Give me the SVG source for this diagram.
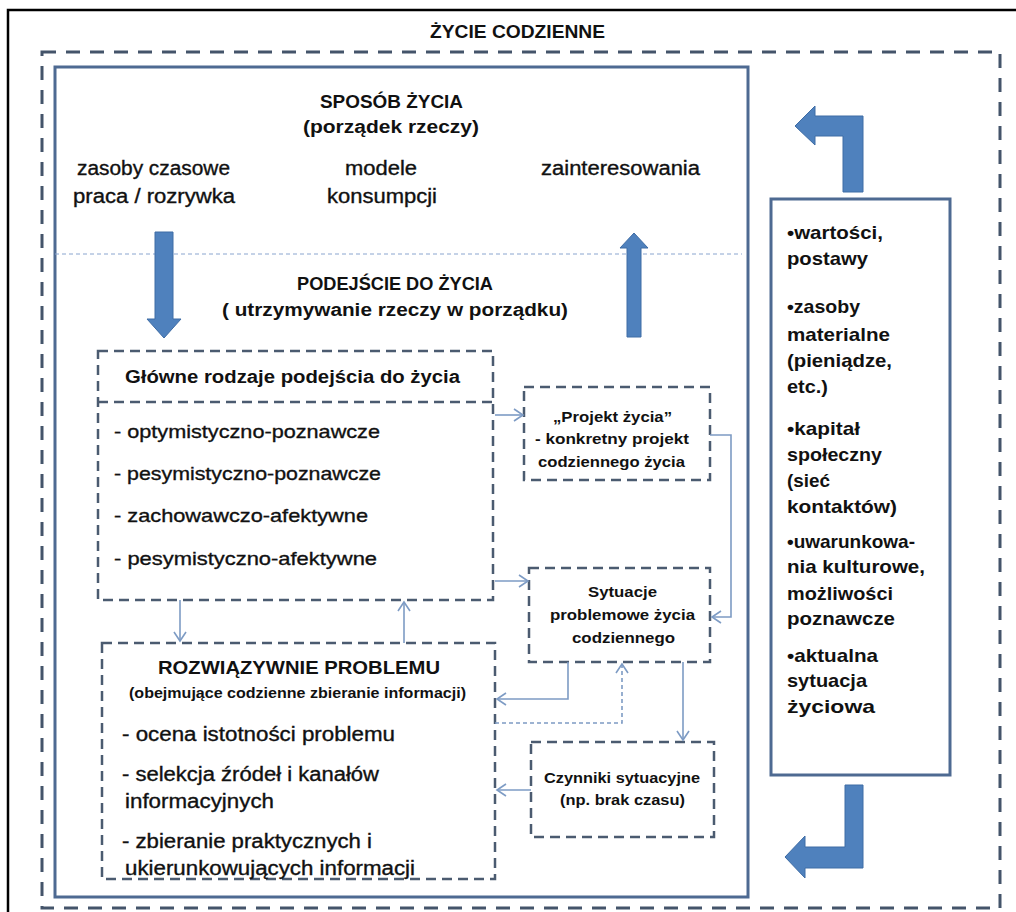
<svg xmlns="http://www.w3.org/2000/svg" width="1016" height="912" viewBox="0 0 1016 912">
<defs>
<style>
text{font-family:"Liberation Sans",Arial,sans-serif;fill:#111}
.b{font-weight:bold}
.r{stroke:#111;stroke-width:0.35}
.t16{font-size:17.5px}
.t18{font-size:19.5px}
.t17{font-size:19px}
.tb{font-size:18.5px}
.t14{font-size:15px}
.t13{font-size:14px}
.box{fill:none;stroke:#4b5b70;stroke-width:2.5;stroke-dasharray:10 6}
.con{fill:none;stroke:#7d9bc4;stroke-width:1.6}
.big{fill:#4f81bd;stroke:#3e6ca5;stroke-width:1}
</style>
<marker id="ah" markerWidth="12" markerHeight="14" refX="10" refY="7" orient="auto" markerUnits="userSpaceOnUse">
<path d="M1,1 L10,7 L1,13" fill="none" stroke="#7d9bc4" stroke-width="1.6"/>
</marker>
</defs>
<rect width="1016" height="912" fill="#fff"/>
<g id="frame">
<path d="M8 912 V10 H1016" fill="none" stroke="#000" stroke-width="2.5"/>
</g>
<g id="zycie-codzienne">
<rect x="42" y="52" width="958" height="856" fill="none" stroke="#44546a" stroke-width="3" stroke-dasharray="14 10"/>
<text class="b t16" x="430" y="38" textLength="175" lengthAdjust="spacingAndGlyphs">ŻYCIE CODZIENNE</text>
</g>
<g id="sposob-zycia">
<rect x="55" y="67" width="693" height="830" fill="none" stroke="#4e6a92" stroke-width="3"/>
<line x1="55" y1="254" x2="742" y2="254" stroke="#8aa5cf" stroke-width="1" stroke-dasharray="4 3"/>
<text class="b t16" x="320" y="108" textLength="143" lengthAdjust="spacingAndGlyphs">SPOSÓB ŻYCIA</text>
<text class="b t16" x="303" y="133" textLength="176" lengthAdjust="spacingAndGlyphs">(porządek rzeczy)</text>
<text class="t18 r" x="77" y="175" textLength="153" lengthAdjust="spacingAndGlyphs">zasoby czasowe</text>
<text class="t18 r" x="73" y="203" textLength="162" lengthAdjust="spacingAndGlyphs">praca / rozrywka</text>
<text class="t18 r" x="345" y="175" textLength="72" lengthAdjust="spacingAndGlyphs">modele</text>
<text class="t18 r" x="327" y="203" textLength="110" lengthAdjust="spacingAndGlyphs">konsumpcji</text>
<text class="t18 r" x="541" y="175" textLength="159" lengthAdjust="spacingAndGlyphs">zainteresowania</text>
<text class="b t16" x="297" y="290" textLength="196" lengthAdjust="spacingAndGlyphs">PODEJŚCIE DO ŻYCIA</text>
<text class="b t16" x="222" y="316" textLength="346" lengthAdjust="spacingAndGlyphs">( utrzymywanie rzeczy w porządku)</text>
</g>
<g id="big-arrows">
<path class="big" d="M155 232 H173 V319 H181 L164 338 L147 319 H155 Z"/>
<path class="big" d="M627 337 V248 H620 L634 233 L648 248 H641 V337 Z"/>
<path class="big" d="M843 192 V136 H815 V145 L795 126 L815 106 V116 H863 V192 Z"/>
<path class="big" d="M845 785 H863 V868 H805 V878 L785 857 L805 836 V847 H845 Z"/>
</g>
<g id="glowne">
<rect class="box" x="98" y="351" width="395" height="249"/>
<line class="box" x1="98" y1="402" x2="493" y2="402"/>
<text class="b t16" x="125" y="383" textLength="335" lengthAdjust="spacingAndGlyphs">Główne rodzaje podejścia do życia</text>
<text class="t17 r" x="114" y="438" textLength="266" lengthAdjust="spacingAndGlyphs">- optymistyczno-poznawcze</text>
<text class="t17 r" x="114" y="480" textLength="267" lengthAdjust="spacingAndGlyphs">- pesymistyczno-poznawcze</text>
<text class="t17 r" x="114" y="522" textLength="254" lengthAdjust="spacingAndGlyphs">- zachowawczo-afektywne</text>
<text class="t17 r" x="114" y="565" textLength="263" lengthAdjust="spacingAndGlyphs">- pesymistyczno-afektywne</text>
</g>
<g id="projekt">
<rect class="box" x="524" y="387" width="186" height="93"/>
<text class="b t14" x="553" y="422" textLength="119" lengthAdjust="spacingAndGlyphs">„Projekt życia”</text>
<text class="b t14" x="535" y="444" textLength="154" lengthAdjust="spacingAndGlyphs">- konkretny projekt</text>
<text class="b t14" x="538" y="467" textLength="147" lengthAdjust="spacingAndGlyphs">codziennego życia</text>
</g>
<g id="sytuacje">
<rect class="box" x="529" y="568" width="181" height="94"/>
<text class="b t14" x="588" y="597" textLength="69" lengthAdjust="spacingAndGlyphs">Sytuacje</text>
<text class="b t14" x="550" y="620" textLength="145" lengthAdjust="spacingAndGlyphs">problemowe życia</text>
<text class="b t14" x="572" y="643" textLength="103" lengthAdjust="spacingAndGlyphs">codziennego</text>
</g>
<g id="czynniki">
<rect class="box" x="531" y="742" width="183" height="95"/>
<text class="b t14" x="544" y="783" textLength="156" lengthAdjust="spacingAndGlyphs">Czynniki sytuacyjne</text>
<text class="b t14" x="560" y="805" textLength="125" lengthAdjust="spacingAndGlyphs">(np. brak czasu)</text>
</g>
<g id="rozwiazywanie">
<rect class="box" x="102" y="643" width="393" height="236"/>
<text class="b t16" x="158" y="674" textLength="282" lengthAdjust="spacingAndGlyphs">ROZWIĄZYWNIE PROBLEMU</text>
<text class="b t13" x="129" y="698" textLength="337" lengthAdjust="spacingAndGlyphs">(obejmujące codzienne zbieranie informacji)</text>
<text class="t18 r" x="122" y="741" textLength="273" lengthAdjust="spacingAndGlyphs">- ocena istotności problemu</text>
<text class="t18 r" x="122" y="781" textLength="257" lengthAdjust="spacingAndGlyphs">- selekcja źródeł i kanałów</text>
<text class="t18 r" x="125" y="808" textLength="149" lengthAdjust="spacingAndGlyphs">informacyjnych</text>
<text class="t18 r" x="122" y="848" textLength="250" lengthAdjust="spacingAndGlyphs">- zbieranie praktycznych i</text>
<text class="t18 r" x="125" y="875" textLength="290" lengthAdjust="spacingAndGlyphs">ukierunkowujących informacji</text>
</g>
<g id="zasoby">
<rect x="771" y="199" width="179" height="576" fill="none" stroke="#4e6a92" stroke-width="3"/>
<text class="b tb" x="787" y="239" textLength="96" lengthAdjust="spacingAndGlyphs">•wartości,</text>
<text class="b tb" x="787" y="265" textLength="81" lengthAdjust="spacingAndGlyphs">postawy</text>
<text class="b tb" x="787" y="313" textLength="73" lengthAdjust="spacingAndGlyphs">•zasoby</text>
<text class="b tb" x="787" y="341" textLength="103" lengthAdjust="spacingAndGlyphs">materialne</text>
<text class="b tb" x="787" y="367" textLength="105" lengthAdjust="spacingAndGlyphs">(pieniądze,</text>
<text class="b tb" x="787" y="393" textLength="41" lengthAdjust="spacingAndGlyphs">etc.)</text>
<text class="b tb" x="787" y="435" textLength="73" lengthAdjust="spacingAndGlyphs">•kapitał</text>
<text class="b tb" x="787" y="461" textLength="95" lengthAdjust="spacingAndGlyphs">społeczny</text>
<text class="b tb" x="787" y="487" textLength="43" lengthAdjust="spacingAndGlyphs">(sieć</text>
<text class="b tb" x="787" y="513" textLength="110" lengthAdjust="spacingAndGlyphs">kontaktów)</text>
<text class="b tb" x="787" y="548" textLength="128" lengthAdjust="spacingAndGlyphs">•uwarunkowa-</text>
<text class="b tb" x="787" y="573" textLength="138" lengthAdjust="spacingAndGlyphs">nia kulturowe,</text>
<text class="b tb" x="787" y="600" textLength="106" lengthAdjust="spacingAndGlyphs">możliwości</text>
<text class="b tb" x="787" y="625" textLength="108" lengthAdjust="spacingAndGlyphs">poznawcze</text>
<text class="b tb" x="787" y="662" textLength="91" lengthAdjust="spacingAndGlyphs">•aktualna</text>
<text class="b tb" x="787" y="687" textLength="80" lengthAdjust="spacingAndGlyphs">sytuacja</text>
<text class="b tb" x="787" y="713" textLength="88" lengthAdjust="spacingAndGlyphs">życiowa</text>
</g>
<g id="connectors">
<path class="con" d="M495 415 H523" marker-end="url(#ah)"/>
<path class="con" d="M495 581 H528" marker-end="url(#ah)"/>
<path class="con" d="M710 435 H731 V617 H712" marker-end="url(#ah)"/>
<path class="con" d="M568 662 V699 H497" marker-end="url(#ah)"/>
<path class="con" d="M495 723 H622 V664" stroke="#9db3d4" stroke-dasharray="4 3" marker-end="url(#ah)"/>
<path class="con" d="M683 662 V740" marker-end="url(#ah)"/>
<path class="con" d="M531 790 H497" marker-end="url(#ah)"/>
<path class="con" d="M180 600 V641" marker-end="url(#ah)"/>
<path class="con" d="M404 643 V602" marker-end="url(#ah)"/>
</g>
</svg>
